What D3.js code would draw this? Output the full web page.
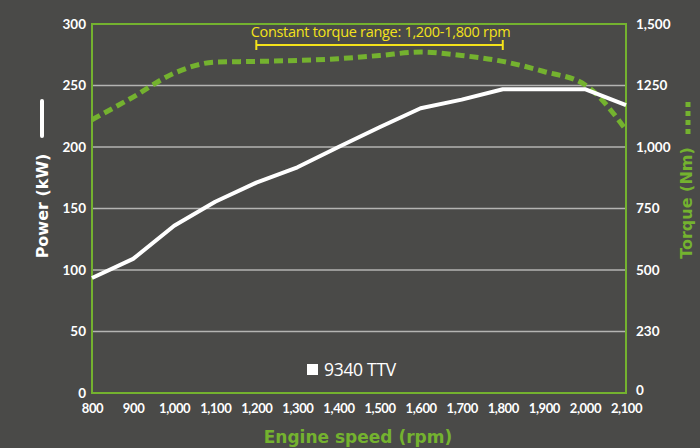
<!DOCTYPE html>
<html><head><meta charset="utf-8">
<script src="https://cdn.jsdelivr.net/npm/d3@7"></script>
<style>html,body{margin:0;padding:0;background:#4a4a48;}svg{display:block;}</style>
</head><body>
<svg id="c" width="700" height="448"></svg>
<script>
const rpm = [800,900,1000,1100,1200,1300,1400,1500,1600,1700,1800,1900,2000,2100];
const powerKW = [93.5,109,136,155.5,171,183.5,200,216,231.5,238.5,247,247,247,234];
const torqueNm = [1111,1203,1300,1345,1348,1352,1359,1372,1386,1372,1348,1307,1253,1070];
const xTicks = [800,900,1000,1100,1200,1300,1400,1500,1600,1700,1800,1900,2000,2100];
const xTickLabels = ["800","900","1,000","1,100","1,200","1,300","1,400","1,500","1,600","1,700","1,800","1,900","2,000","2,100"];
const yTicks = [0,50,100,150,200,250,300];
const yRightLabels = ["0","230","500","750","1,000","1250","1,500"];
const rangeStart = 1200, rangeEnd = 1800;
const annotation = "Constant torque range: 1,200-1,800 rpm";
const legendLabel = "9340 TTV";

const svg = d3.select("#c");
const m = {l:92, t:24, r:626, b:393};
const x = d3.scaleLinear().domain([800,2100]).range([m.l, m.r]);
const y = d3.scaleLinear().domain([0,300]).range([m.b, m.t]);
const yR = d3.scaleLinear().domain([0,1500]).range([m.b, m.t]);
const green = "#74b22f", white = "#ffffff", yellow = "#f4e21a";
const font = "Lato, 'DejaVu Sans', sans-serif";
const titleFont = "'DejaVu Sans', sans-serif";

// gridlines
svg.append("g").selectAll("line").data(yTicks.filter(d=>d>0 && d<300)).join("line")
  .attr("x1", m.l).attr("x2", m.r).attr("y1", d=>y(d)).attr("y2", d=>y(d))
  .attr("stroke", "#b4b4b2").attr("stroke-width", 1.5);

// frame
svg.append("rect").attr("x", m.l).attr("y", m.t).attr("width", m.r-m.l).attr("height", m.b-m.t)
  .attr("fill","none").attr("stroke", green).attr("stroke-width", 2);

// axes
const axL = d3.axisLeft(y).tickValues(yTicks).tickSize(0).tickPadding(6);
const gL = svg.append("g").attr("transform", `translate(${m.l},0)`).call(axL);
const axR = d3.axisRight(y).tickValues(yTicks).tickSize(0).tickPadding(10).tickFormat((d,i)=>yRightLabels[i]);
const gR = svg.append("g").attr("transform", `translate(${m.r},0)`).call(axR);
const axB = d3.axisBottom(x).tickValues(xTicks).tickSize(0).tickPadding(11).tickFormat((d,i)=>xTickLabels[i]);
const gB = svg.append("g").attr("transform", `translate(0,${m.b})`).call(axB);
[gL,gR,gB].forEach(g=>{
  g.select(".domain").remove();
  g.selectAll("text").attr("fill", white).attr("font-family", font).attr("font-weight","bold").attr("font-size", 13.5);
});
gR.selectAll("text").filter((d)=>d===0).attr("dy", "0.1em");
gB.selectAll("text").attr("font-size", 13).attr("letter-spacing", -0.4);

// torque line (dashed)
const lineT = d3.line().x((d,i)=>x(rpm[i])).y(d=>yR(d)).curve(d3.curveMonotoneX);
svg.append("path").datum(torqueNm).attr("d", lineT).attr("fill","none")
  .attr("stroke", green).attr("stroke-width", 5).attr("stroke-dasharray","9,5");

// power line
const lineP = d3.line().x((d,i)=>x(rpm[i])).y(d=>y(d));
svg.append("path").datum(powerKW).attr("d", lineP).attr("fill","none")
  .attr("stroke", white).attr("stroke-width", 4).attr("stroke-linejoin","round");

// annotation
const by = 45;
svg.append("line").attr("x1", x(rangeStart)).attr("x2", x(rangeEnd)).attr("y1", by).attr("y2", by)
  .attr("stroke", yellow).attr("stroke-width", 2);
[rangeStart, rangeEnd].forEach(v=>svg.append("line").attr("x1", x(v)).attr("x2", x(v)).attr("y1", by-5).attr("y2", by+5)
  .attr("stroke", yellow).attr("stroke-width", 2));
svg.append("text").attr("x", (x(rangeStart)+x(rangeEnd))/2 + 1).attr("y", 37).attr("text-anchor","middle")
  .attr("fill", yellow).attr("font-family", "'Open Sans', sans-serif").attr("font-size", 14.5).attr("letter-spacing", -0.3).text(annotation);

// legend
svg.append("rect").attr("x", 307).attr("y", 364).attr("width", 11).attr("height", 11).attr("fill", white);
svg.append("text").attr("x", 324).attr("y", 376).attr("fill", white)
  .attr("font-family", "'Open Sans', sans-serif").attr("font-size", 17.5).attr("letter-spacing", -0.3).text(legendLabel);

// left title
const tl = svg.append("g").attr("transform", "translate(42,0) rotate(-90)");
tl.append("text").attr("x", -206).attr("y", 0).attr("dy","0.35em").attr("text-anchor","middle")
  .attr("fill", white).attr("font-family", titleFont).attr("font-weight","bold").attr("font-size", 16).text("Power (kW)");
tl.append("line").attr("x1", -101).attr("x2", -136).attr("y1", 0).attr("y2", 0)
  .attr("stroke", white).attr("stroke-width", 4).attr("stroke-linecap","round");

// right title
const tr = svg.append("g").attr("transform", "translate(686,0) rotate(-90)");
tr.append("text").attr("x", -203).attr("y", 0).attr("dy","0.35em").attr("text-anchor","middle")
  .attr("fill", green).attr("font-family", titleFont).attr("font-weight","bold").attr("font-size", 16).text("Torque (Nm)");
tr.append("line").attr("x1", -102).attr("x2", -136).attr("y1", 2).attr("y2", 2)
  .attr("stroke", green).attr("stroke-width", 5).attr("stroke-dasharray","5,4");

// x title
svg.append("text").attr("x", 358).attr("y", 443).attr("text-anchor","middle")
  .attr("fill", green).attr("font-family", titleFont).attr("font-weight","bold").attr("font-size", 17).text("Engine speed (rpm)");
</script>
</body></html>
